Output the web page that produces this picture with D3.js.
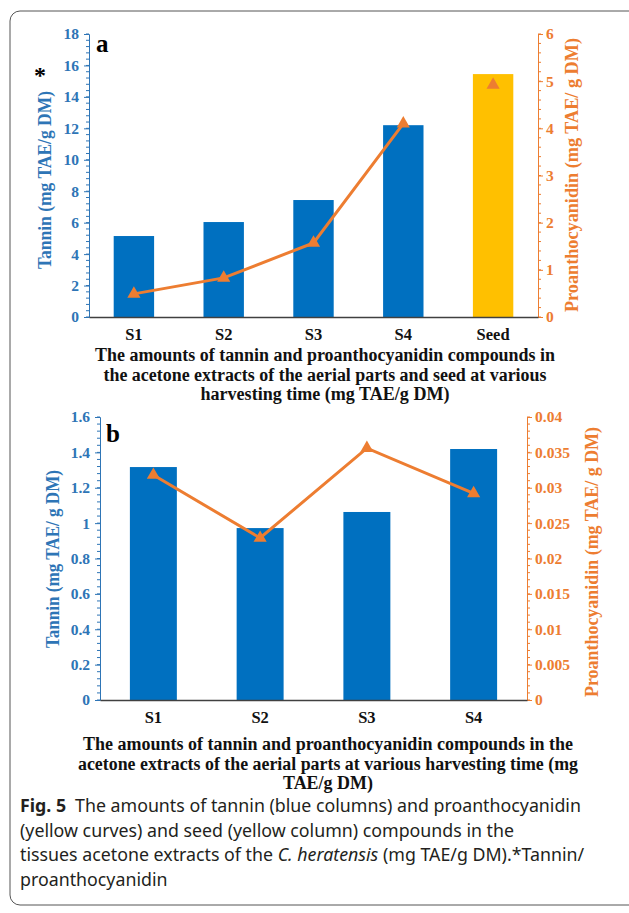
<!DOCTYPE html>
<html>
<head>
<meta charset="utf-8">
<script src="https://cdn.jsdelivr.net/npm/d3@7"></script>
<style>
  body { margin: 0; background: #fff; }
  text { font-family: "Liberation Serif", "Times New Roman", serif; font-weight: bold; }
  .cap { font-family: "Noto Sans", "Open Sans", sans-serif; font-weight: normal; fill: #231f20; }
</style>
</head>
<body>
<div id="chart"></div>
<script>
// panel a: aerial parts + seed
var catsA = ["S1", "S2", "S3", "S4", "Seed"];
var tanninA = [5.15, 6.04, 7.44, 12.2, 15.45];
var proA = [0.49, 0.83, 1.57, 4.1, 4.92];
var ticksTanA = [0, 2, 4, 6, 8, 10, 12, 14, 16, 18];
var ticksProA = [0, 1, 2, 3, 4, 5, 6];

// panel b: aerial parts only
var catsB = ["S1", "S2", "S3", "S4"];
var tanninB = [1.317, 0.972, 1.063, 1.419];
var proB = [0.0318, 0.0229, 0.0356, 0.0292];
var ticksTanB = [0, 0.2, 0.4, 0.6, 0.8, 1, 1.2, 1.4, 1.6];
var ticksProB = [0, 0.005, 0.01, 0.015, 0.02, 0.025, 0.03, 0.035, 0.04];

var titleA = ["The amounts of tannin and proanthocyanidin  compounds in",
              "the acetone extracts of the aerial parts and seed at various",
              "harvesting time (mg TAE/g DM)"];
var titleB = ["The amounts of tannin and proanthocyanidin  compounds in the",
              "acetone extracts of the aerial parts at various harvesting time (mg",
              "TAE/g DM)"];

var width = 629, height = 913;
var blue = "#0070C0", blueTxt = "#2E75B6", orange = "#ED7D31", gold = "#FFC000";

var svg = d3.select("#chart").append("svg")
    .attr("width", width)
    .attr("height", height);

// frame round the figure
svg.append("rect")
    .attr("x", 10).attr("y", 11)
    .attr("width", 640).attr("height", 894)
    .attr("rx", 10)
    .attr("fill", "none")
    .attr("stroke", "#555")
    .attr("stroke-width", 1);

function minorTicks(axisG, scale, step, max, side, color) {
    var n = Math.round(max / step);
    var vals = d3.range(n + 1).map(function (i) { return i * step; });
    axisG.selectAll(".minor").data(vals).enter().append("line")
        .attr("class", "minor")
        .attr("x1", 0).attr("x2", side * 3)
        .attr("y1", function (d) { return scale(d); })
        .attr("y2", function (d) { return scale(d); })
        .attr("stroke", color).attr("stroke-width", 1);
}

function panel(o) {
    var x = d3.scaleBand().domain(o.cats).range([o.left, o.right]).paddingInner(o.pad).paddingOuter(o.pad / 2);
    var yL = d3.scaleLinear().domain([0, o.maxL]).range([o.bottom, o.top]);
    var yR = d3.scaleLinear().domain([0, o.maxR]).range([o.bottom, o.top]);

    // bars
    svg.selectAll(".bar" + o.id).data(o.tannin).enter().append("rect")
        .attr("class", "bar" + o.id)
        .attr("x", function (d, i) { return x(o.cats[i]); })
        .attr("width", x.bandwidth())
        .attr("y", function (d) { return yL(d); })
        .attr("height", function (d) { return o.bottom - yL(d); })
        .attr("fill", function (d, i) { return o.cats[i] === "Seed" ? gold : blue; });

    // left axis
    var gL = svg.append("g").attr("transform", "translate(" + o.left + ",0)");
    gL.call(d3.axisLeft(yL).tickValues(o.ticksL).tickSize(5).tickPadding(5).tickFormat(d3.format("")));
    gL.select(".domain").attr("stroke", blueTxt);
    gL.selectAll(".tick line").attr("stroke", blueTxt);
    gL.selectAll(".tick text").attr("fill", blueTxt).style("font-size", "15.5px")
        .style("font-family", "Liberation Serif").style("font-weight", "bold");
    minorTicks(gL, yL, o.minorL, o.maxL, -1, blueTxt);

    // right axis
    var gR = svg.append("g").attr("transform", "translate(" + o.right + ",0)");
    gR.call(d3.axisRight(yR).tickValues(o.ticksR).tickSize(5).tickPadding(3).tickFormat(d3.format("")));
    gR.select(".domain").attr("stroke", orange);
    gR.selectAll(".tick line").attr("stroke", orange);
    gR.selectAll(".tick text").attr("fill", orange).style("font-size", "15.5px")
        .style("font-family", "Liberation Serif").style("font-weight", "bold");
    minorTicks(gR, yR, o.minorR, o.maxR, 1, orange);

    // category axis
    var gX = svg.append("g").attr("transform", "translate(0," + o.bottom + ")");
    gX.call(d3.axisBottom(x).tickSize(0).tickPadding(11));
    gX.select(".domain").attr("stroke", "#404040").attr("stroke-width", 1.3);
    gX.selectAll(".tick text").attr("fill", "#111").style("font-size", "16.5px")
        .style("font-family", "Liberation Serif").style("font-weight", "bold");

    // proanthocyanidin line (harvest stages only)
    var n = o.lineN;
    var line = d3.line()
        .x(function (d, i) { return x(o.cats[i]) + x.bandwidth() / 2; })
        .y(function (d) { return yR(d); });
    svg.append("path").datum(o.pro.slice(0, n))
        .attr("d", line)
        .attr("fill", "none")
        .attr("stroke", orange)
        .attr("stroke-width", 3);
    var tri = d3.symbol().type(d3.symbolTriangle).size(75);
    svg.selectAll(".mk" + o.id).data(o.pro).enter().append("path")
        .attr("class", "mk" + o.id)
        .attr("d", tri)
        .attr("fill", orange)
        .attr("transform", function (d, i) {
            return "translate(" + (x(o.cats[i]) + x.bandwidth() / 2) + "," + yR(d) + ")";
        });

    // axis titles
    svg.append("text")
        .attr("transform", "translate(" + o.labL[0] + "," + o.labL[1] + ") rotate(-90)")
        .attr("text-anchor", "middle").attr("fill", blueTxt)
        .style("font-size", "18px")
        .attr("textLength", o.labLW).attr("lengthAdjust", "spacingAndGlyphs")
        .text(o.textL);
    svg.append("text")
        .attr("transform", "translate(" + o.labR[0] + "," + o.labR[1] + ") rotate(-90)")
        .attr("text-anchor", "middle").attr("fill", orange)
        .style("font-size", "18px")
        .attr("textLength", o.labRW).attr("lengthAdjust", "spacingAndGlyphs")
        .text("Proanthocyanidin (mg TAE/ g DM)");

    // panel letter
    svg.append("text").attr("x", o.letter[0]).attr("y", o.letter[1])
        .attr("fill", "#000").style("font-size", "25px").text(o.id);

    // category title
    svg.selectAll(".tt" + o.id).data(o.title).enter().append("text")
        .attr("class", "tt" + o.id)
        .attr("x", o.titleX)
        .attr("y", function (d, i) { return o.titleY + i * 19.5; })
        .attr("text-anchor", "middle")
        .attr("fill", "#111")
        .style("font-size", "18px")
        .attr("textLength", function (d, i) { return o.titleW[i]; })
        .attr("lengthAdjust", "spacingAndGlyphs")
        .text(function (d) { return d; });
}

panel({
    id: "a", cats: catsA, tannin: tanninA, pro: proA, lineN: 4,
    left: 89, right: 538, top: 34, bottom: 317, pad: 0.55,
    maxL: 18, maxR: 6, ticksL: ticksTanA, ticksR: ticksProA, minorL: 0.4, minorR: 0.2,
    labL: [51, 180], labLW: 178, labR: [578, 175], labRW: 274, textL: "Tannin (mg TAE/g DM)",
    letter: [96, 52], title: titleA, titleX: 325, titleY: 361, titleW: [460, 443, 249]
});

svg.append("text").attr("x", 34).attr("y", 83).attr("fill", "#000")
    .style("font-size", "24px").text("*");

panel({
    id: "b", cats: catsB, tannin: tanninB, pro: proB, lineN: 4,
    left: 100, right: 527, top: 417, bottom: 700, pad: 0.56,
    maxL: 1.6, maxR: 0.04, ticksL: ticksTanB, ticksR: ticksProB, minorL: 0.04, minorR: 0.001,
    labL: [59, 559], labLW: 178, labR: [598, 562], labRW: 270, textL: "Tannin (mg TAE/ g DM)",
    letter: [106, 442], title: titleB, titleX: 328, titleY: 750, titleW: [490, 500, 90]
});

// figure caption
var cap = svg.append("g").attr("class", "capg");
var capY = [812, 837, 861, 886];
var capSize = "17.8px";
var l1 = cap.append("text").attr("class", "cap").attr("x", 20).attr("y", capY[0]).style("font-size", capSize);
l1.append("tspan").style("font-weight", "bold").text("Fig. 5");
l1.append("tspan").text("\u2002The amounts of tannin (blue columns) and proanthocyanidin");
cap.append("text").attr("class", "cap").attr("x", 20).attr("y", capY[1]).style("font-size", capSize)
    .text("(yellow curves) and seed (yellow column) compounds in the");
var l3 = cap.append("text").attr("class", "cap").attr("x", 20).attr("y", capY[2]).style("font-size", capSize);
l3.append("tspan").text("tissues acetone extracts of the ");
l3.append("tspan").style("font-style", "italic").text("C. heratensis");
l3.append("tspan").text(" (mg TAE/g DM).*Tannin/");
cap.append("text").attr("class", "cap").attr("x", 20).attr("y", capY[3]).style("font-size", capSize)
    .text("proanthocyanidin");
</script>
</body>
</html>
